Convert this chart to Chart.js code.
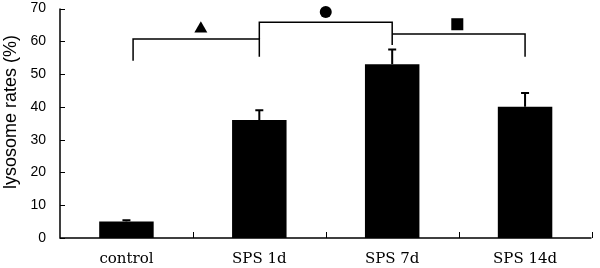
<!DOCTYPE html>
<html>
<head>
<meta charset="utf-8">
<script src="https://cdn.jsdelivr.net/npm/chart.js@4/dist/chart.umd.min.js"></script>
<style>
html,body{margin:0;padding:0;background:#fff;}
#wrap{width:600px;height:268px;position:relative;}
</style>
</head>
<body>
<div id="wrap"><canvas id="c" width="600" height="268"></canvas></div>
<script>
// Data
const categories = ['control', 'SPS 1d', 'SPS 7d', 'SPS 14d'];
const rates = [5.0, 36.0, 53.0, 40.0];
const errors = [0.4, 3.0, 4.5, 4.2];
const yTicks = [0, 10, 20, 30, 40, 50, 60, 70];
const yTitle = 'lysosome rates (%)';
// significance brackets (x as category index position, y in %)
const bracketA = [{x: 0.05, y: 54.1}, {x: 0.05, y: 60.7}, {x: 1, y: 60.7}, {x: 1, y: 55.3}];
const bracketB = [{x: 1, y: 60.7}, {x: 1, y: 65.8}, {x: 2, y: 65.8}, {x: 2, y: 58.9}];
const bracketC = [{x: 2, y: 62.2}, {x: 3, y: 62.2}, {x: 3, y: 55.3}];
const markTriangle = [{x: 0.56, y: 63.8}];
const markCircle = [{x: 1.5, y: 68.9}];
const markSquare = [{x: 2.49, y: 65.2}];

const errorBarPlugin = {
  id: 'errorBars',
  afterDatasetsDraw(chart) {
    const ctx = chart.ctx;
    const meta = chart.getDatasetMeta(0);
    const ys = chart.scales.y;
    ctx.save();
    ctx.strokeStyle = '#000';
    ctx.lineWidth = 2;
    meta.data.forEach((bar, i) => {
      const yTop = ys.getPixelForValue(rates[i] + errors[i]);
      ctx.beginPath();
      ctx.moveTo(bar.x, bar.y);
      ctx.lineTo(bar.x, yTop);
      ctx.moveTo(bar.x - 4, yTop);
      ctx.lineTo(bar.x + 4, yTop);
      ctx.stroke();
    });
    ctx.restore();
  }
};

const axisPlugin = {
  id: 'inwardTicks',
  afterDraw(chart) {
    const ctx = chart.ctx;
    const ys = chart.scales.y, xs = chart.scales.x;
    const a = chart.chartArea;
    ctx.save();
    ctx.strokeStyle = '#000';
    ctx.lineWidth = 1.5;
    ctx.beginPath();
    ctx.moveTo(a.left, a.top);
    ctx.lineTo(a.left, a.bottom);
    ctx.lineTo(a.right, a.bottom);
    ctx.stroke();
    ctx.lineWidth = 1;
    ctx.beginPath();
    yTicks.forEach(v => {
      const p = Math.round(ys.getPixelForValue(v)) + 0.5;
      ctx.moveTo(a.left, p);
      ctx.lineTo(a.left + 5, p);
    });
    for (let i = 1; i <= categories.length; i++) {
      const p = Math.round(xs.getPixelForValue(i - 0.5)) + 0.5;
      ctx.moveTo(p, a.bottom);
      ctx.lineTo(p, a.bottom - 6);
    }
    ctx.stroke();
    // y axis title
    ctx.translate(11, 112);
    ctx.rotate(-Math.PI / 2);
    ctx.fillStyle = '#000';
    ctx.font = '18px "Liberation Sans"';
    ctx.textAlign = 'center';
    ctx.textBaseline = 'middle';
    ctx.fillText(yTitle, 0, 0);
    ctx.restore();
  }
};

const lineDs = (data) => ({
  type: 'line', data, xAxisID: 'x2', borderColor: '#000', borderWidth: 1.5,
  pointRadius: 0, fill: false, tension: 0, order: 0, clip: false
});
const markDs = (data, style, r) => ({
  type: 'scatter', data, xAxisID: 'x2', pointStyle: style, pointRadius: r,
  backgroundColor: '#000', borderColor: '#000', borderWidth: 0, order: 0, clip: false
});

new Chart(document.getElementById('c'), {
  data: {
    labels: categories,
    datasets: [
      {type: 'bar', data: rates, backgroundColor: '#000', borderWidth: 0,
       grouped: false, barPercentage: 0.41, categoryPercentage: 1, order: 1},
      lineDs(bracketA), lineDs(bracketB), lineDs(bracketC),
      markDs(markTriangle, 'triangle', 7.5),
      markDs(markCircle, 'circle', 6),
      markDs(markSquare, 'rect', 8.5)
    ]
  },
  options: {
    responsive: false,
    animation: false,
    events: [],
    layout: {padding: {top: 3, right: 0, left: 0, bottom: 0}},
    plugins: {legend: {display: false}, tooltip: {enabled: false}},
    scales: {
      x: {
        type: 'category',
        offset: true,
        grid: {display: false, drawTicks: false},
        border: {display: false},
        ticks: {color: '#000', padding: 12, maxRotation: 0,
                font: {family: 'DejaVu Serif', size: 15}},
        afterFit(s) { s.height = 30; s.paddingLeft = 0; s.paddingRight = 0; }
      },
      x2: {
        type: 'linear', min: -0.5, max: 3.5, display: false
      },
      y: {
        min: 0, max: 70,
        afterBuildTicks(s) { s.ticks = yTicks.map(v => ({value: v})); },
        grid: {display: false, drawTicks: false},
        border: {display: false},
        ticks: {color: '#000', padding: 14,
                font: {family: 'Liberation Sans', size: 14}},
        title: {display: false},
        afterFit(s) { s.width = 60; s.paddingTop = 0; s.paddingBottom = 0; }
      }
    }
  },
  plugins: [errorBarPlugin, axisPlugin]
});
</script>
</body>
</html>
